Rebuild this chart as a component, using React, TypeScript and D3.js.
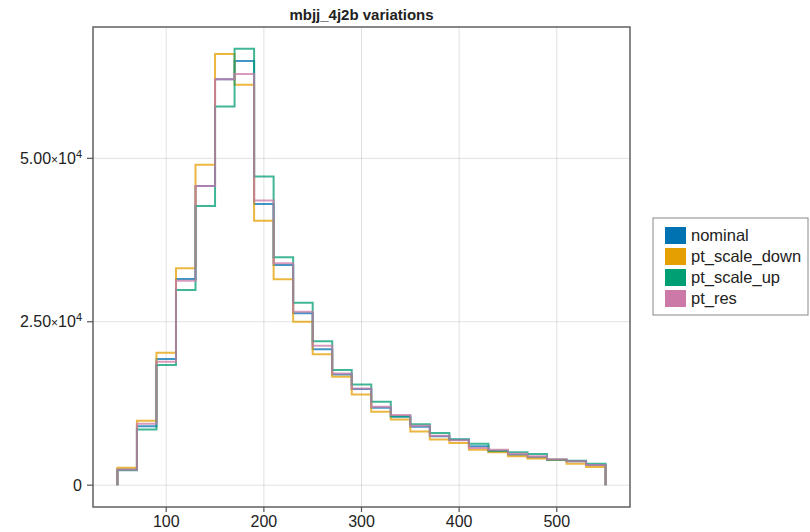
import React from "react";
import * as d3 from "d3";

// bin left edges (width 20)
const binEdges = [50, 70, 90, 110, 130, 150, 170, 190, 210, 230, 250, 270, 290, 310, 330, 350, 370, 390, 410, 430, 450, 470, 490, 510, 530, 550];

const nominal = [2400, 9000, 19290, 31540, 45780, 62110, 64900, 43020, 33680, 26290, 20780, 16950, 14700, 11840, 10460, 8950, 7500, 6970, 5940, 5180, 4670, 4260, 3900, 3650, 3090];
const ptScaleDown = [2660, 9870, 20260, 33180, 49000, 65940, 61250, 40460, 31490, 25000, 20010, 16580, 13880, 11220, 10060, 8200, 6970, 6460, 5430, 5030, 4410, 4100, 3850, 3290, 2790];
const ptScaleUp = [2270, 8500, 18370, 29850, 42700, 57920, 66750, 47200, 34860, 27910, 22000, 17610, 15410, 12760, 10560, 9330, 8000, 6970, 6350, 5280, 5030, 4770, 3900, 3750, 3290];
const ptRes = [2370, 9410, 18880, 31280, 45780, 62110, 62900, 43530, 33950, 26530, 21330, 17100, 14800, 11990, 10720, 9080, 7580, 6870, 5700, 5430, 4820, 4410, 3980, 3650, 3090];

const seriesNames = ["nominal", "pt_scale_down", "pt_scale_up", "pt_res"];
const seriesColors = ["#0072B2", "#E69F00", "#009E73", "#CC79A7"];
const xTicks = [100, 200, 300, 400, 500];
const yTicks = [0, 25000, 50000];

const W = 810;
const H = 532;
const left = 93, right = 630, top = 27, bottom = 507;
const font = "'Liberation Sans', Arial, Helvetica, sans-serif";

export default function App() {
  const all = [nominal, ptScaleDown, ptScaleUp, ptRes];
  const ymax = d3.max(all.flat()) as number;
  const x0 = binEdges[0], x1 = binEdges[binEdges.length - 1];
  const xpad = (x1 - x0) * 0.05;

  const x = d3.scaleLinear().domain([x0 - xpad, x1 + xpad]).range([left, right]);
  const y = d3.scaleLinear().domain([-ymax * 0.05, ymax * 1.05]).range([bottom, top]);

  const stepPath = (vals: number[]) => {
    const pts: [number, number][] = [[binEdges[0], 0]];
    vals.forEach((v, i) => {
      pts.push([binEdges[i], v]);
      pts.push([binEdges[i + 1], v]);
    });
    pts.push([binEdges[binEdges.length - 1], 0]);
    return d3.line<[number, number]>().x(d => x(d[0])).y(d => y(d[1]))(pts) as string;
  };

  const fmtMantissa = (v: number) => (v === 0 ? "0" : (v / 1e4).toFixed(2));

  return (
    <svg width={W} height={H} style={{ position: "absolute", left: 0, top: 0, background: "#fff" }} fontFamily={font}>
      <rect x={0} y={0} width={W} height={H} fill="#fff" />
      {/* grid */}
      {xTicks.map(t => (
        <line key={"gx" + t} x1={x(t)} x2={x(t)} y1={top} y2={bottom} stroke="#000" strokeOpacity={0.12} strokeWidth={1} />
      ))}
      {yTicks.map(t => (
        <line key={"gy" + t} x1={left} x2={right} y1={y(t)} y2={y(t)} stroke="#000" strokeOpacity={0.12} strokeWidth={1} />
      ))}

      {/* histograms */}
      {all.map((vals, i) => (
        <path key={seriesNames[i]} d={stepPath(vals)} fill="none" stroke={seriesColors[i]} strokeWidth={2} strokeOpacity={0.75} />
      ))}

      {/* frame */}
      <rect x={left} y={top} width={right - left} height={bottom - top} fill="none" stroke="#555" strokeWidth={1.4} />

      {/* x ticks */}
      {xTicks.map(t => (
        <g key={"xt" + t}>
          <line x1={x(t)} x2={x(t)} y1={bottom} y2={bottom + 5} stroke="#555" strokeWidth={1.2} />
          <text x={x(t)} y={bottom + 20} textAnchor="middle" fontSize={16} fill="#222">{t}</text>
        </g>
      ))}

      {/* y ticks */}
      {yTicks.map(t => (
        <g key={"yt" + t}>
          <line x1={left - 6} x2={left} y1={y(t)} y2={y(t)} stroke="#555" strokeWidth={1.2} />
          <text x={left - 11} y={y(t) + 5.5} textAnchor="end" fontSize={16} fill="#222">
            {t === 0 ? "0" : (
              <>
                {fmtMantissa(t)}
                <tspan fontSize={12}>×</tspan>
                10
                <tspan fontSize={11} dy={-6}>4</tspan>
              </>
            )}
          </text>
        </g>
      ))}

      {/* title */}
      <text x={(left + right) / 2} y={20} textAnchor="middle" fontSize={15} fontWeight="bold" fill="#222">mbjj_4j2b variations</text>

      {/* legend */}
      <g>
        <rect x={653} y={218} width={155} height={97} fill="#fff" stroke="#888" strokeWidth={1} />
        {seriesNames.map((name, i) => (
          <g key={"lg" + name} transform={`translate(665, ${227 + i * 21})`}>
            <rect x={0} y={0} width={21} height={17} fill={seriesColors[i]} />
            <text x={26} y={14} fontSize={16.5} fill="#222">{name}</text>
          </g>
        ))}
      </g>
    </svg>
  );
}
